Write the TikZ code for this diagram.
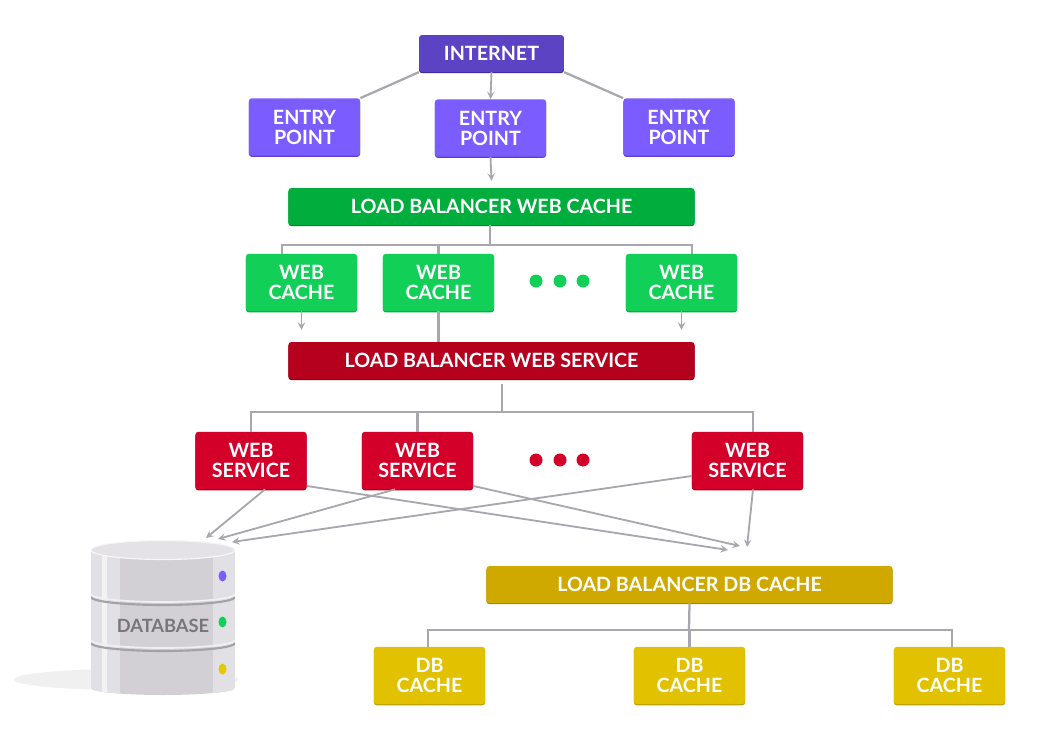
\documentclass[tikz,border=0pt]{standalone}
\usepackage{fontspec}
\setmainfont{Lato}

\definecolor{netfill}{HTML}{5B43C4}
\definecolor{netedge}{HTML}{3F2A9E}
\definecolor{entryfill}{HTML}{7B5CFF}
\definecolor{entryedge}{HTML}{5A3FD0}
\definecolor{lbcachefill}{HTML}{00AD3D}
\definecolor{lbcacheedge}{HTML}{008A30}
\definecolor{cachefill}{HTML}{12CF58}
\definecolor{cacheedge}{HTML}{0AA845}
\definecolor{lbservicefill}{HTML}{B5001E}
\definecolor{lbserviceedge}{HTML}{8A0016}
\definecolor{servicefill}{HTML}{D30029}
\definecolor{serviceedge}{HTML}{A8001F}
\definecolor{lbdbfill}{HTML}{CFA900}
\definecolor{lbdbedge}{HTML}{A88900}
\definecolor{dbfill}{HTML}{E2C200}
\definecolor{dbedge}{HTML}{BC9F00}
\definecolor{wire}{HTML}{A9A7AE}
\definecolor{drumbase}{HTML}{D2D0D4}
\definecolor{drumlight}{HTML}{E1E0E5}
\definecolor{drumtop}{HTML}{E4E2E7}
\definecolor{drumline}{HTML}{A3A2A7}
\definecolor{drumtext}{HTML}{77767B}

\begin{document}
\begin{tikzpicture}[x=0.025cm,y=-0.025cm]
	% Styles for boxes and wires
	\tikzset{
		card/.style 2 args={fill=#1, preaction={fill=#2, transform canvas={yshift=-0.03cm}}, rounded corners=2pt, text=white, font=\fontsize{14}{14.2}\selectfont\bfseries, align=center, inner sep=0pt},
		smallcard/.style 2 args={card={#1}{#2}, minimum width=2.78cm, minimum height=1.43cm},
		widecard/.style 2 args={card={#1}{#2}, minimum width=10.15cm, minimum height=0.92cm},
		wireline/.style={draw=wire, line width=1.6pt},
		wirearrow/.style={wireline, -stealth, line width=1.3pt}
	}
	\useasboundingbox (0,0) rectangle (1040,736);
	\fill[white] (0,0) rectangle (1040,736);

	% Purple boxes
	\node (internet) at (491.5,53.5) [card={netfill}{netedge}, minimum width=3.62cm, minimum height=0.92cm] {INTERNET};
	\node (entry1) at (304.5,127) [smallcard={entryfill}{entryedge}] {ENTRY\\POINT};
	\node (entry2) at (490.5,128) [smallcard={entryfill}{entryedge}] {ENTRY\\POINT};
	\node (entry3) at (679,127) [smallcard={entryfill}{entryedge}] {ENTRY\\POINT};

	% Green boxes
	\node (lbcache) at (491.5,206.5) [widecard={lbcachefill}{lbcacheedge}] {LOAD BALANCER WEB CACHE};
	\node (cache1) at (301.5,282.5) [smallcard={cachefill}{cacheedge}] {WEB\\CACHE};
	\node (cache2) at (438.5,282.5) [smallcard={cachefill}{cacheedge}] {WEB\\CACHE};
	\node (cache3) at (681.5,282.5) [smallcard={cachefill}{cacheedge}] {WEB\\CACHE};
	\foreach \x in {536,560,583}
		\fill[cachefill] (\x,281) circle[radius=6.5];

	% Red boxes
	\node (lbservice) at (491.5,360.5) [widecard={lbservicefill}{lbserviceedge}] {LOAD BALANCER WEB SERVICE};
	\node (service1) at (251,460.5) [smallcard={servicefill}{serviceedge}] {WEB\\SERVICE};
	\node (service2) at (417.5,460.5) [smallcard={servicefill}{serviceedge}] {WEB\\SERVICE};
	\node (service3) at (747.5,460.5) [smallcard={servicefill}{serviceedge}] {WEB\\SERVICE};
	\foreach \x in {536,560,583}
		\fill[servicefill] (\x,460) circle[radius=6.5];

	% Yellow boxes
	\node (lbdb) at (689.5,584.5) [widecard={lbdbfill}{lbdbedge}] {LOAD BALANCER DB CACHE};
	\node (db1) at (429.5,675.5) [smallcard={dbfill}{dbedge}] {DB\\CACHE};
	\node (db2) at (689.5,675.5) [smallcard={dbfill}{dbedge}] {DB\\CACHE};
	\node (db3) at (949.5,675.5) [smallcard={dbfill}{dbedge}] {DB\\CACHE};

	% Database drum
	\fill[black!6] (126,679.5) ellipse[x radius=112, y radius=10.5];
	\begin{scope}
		\clip (91,550) -- (235,550) -- (235,688) arc[start angle=0, end angle=180, x radius=72, y radius=7] -- cycle;
		\fill[drumbase] (91,540) rectangle (235,700);
		\fill[drumlight] (91,540) rectangle (120,700);
		\fill[black!5] (102,540) rectangle (107,700);
		\fill[drumlight] (213,540) rectangle (235,700);
		\draw[black!6, line width=1.2pt] (91,594) arc[start angle=180, end angle=0, x radius=72, y radius=8];
		\draw[drumline, line width=1.5pt] (91,597) arc[start angle=180, end angle=0, x radius=72, y radius=8];
		\draw[black!6, line width=1.2pt] (91,640) arc[start angle=180, end angle=0, x radius=72, y radius=8];
		\draw[drumline, line width=1.5pt] (91,643) arc[start angle=180, end angle=0, x radius=72, y radius=8];
	\end{scope}
	\fill[drumtop, draw=black!3, line width=0.8pt] (163,550) ellipse[x radius=72, y radius=9.5];
	\node (dbase) at (163,626) [text=drumtext, font=\fontsize{13}{13}\selectfont\bfseries, inner sep=0pt] {DATABASE};
	\fill[entryfill] (222.5,576) ellipse[x radius=4, y radius=5.5];
	\fill[cachefill] (222.5,622) ellipse[x radius=4, y radius=5.5];
	\fill[dbfill!90!yellow] (222.5,669) ellipse[x radius=4, y radius=5.5];
	\coordinate (dbin1) at (206,538);
	\coordinate (dbin2) at (218,539);
	\coordinate (dbin3) at (232,542);
	\coordinate (lbin1) at (728,550);
	\coordinate (lbin2) at (740,546);
	\coordinate (lbin3) at (747,547);

	% Wires out of the internet box
	\draw[wireline] (internet.south west) -- (entry1.north east);
	\draw[wireline] (internet.south east) -- (entry3.north west);
	\draw[wirearrow] (internet.south) -- (entry2.north);
	\draw[wirearrow] (entry2.south) -- ([yshift=0.175cm]lbcache.north);

	% Web cache tree
	\coordinate (cachebus) at (490,245);
	\draw[wireline] (490,0 |- lbcache.south) -- (cachebus);
	\draw[wireline] (282,0 |- cache1.north) |- (cachebus) -| (692,0 |- cache3.north);
	\draw[wireline] (cache2.north) -- (cache2.north |- cachebus);
	\draw[wirearrow] (cache1.south) -- ([yshift=0.3cm]cache1.south |- lbservice.north);
	\draw[wireline] (cache2.south) -- (cache2.south |- lbservice.north);
	\draw[wirearrow] (cache3.south) -- ([yshift=0.3cm]cache3.south |- lbservice.north);

	% Web service tree
	\coordinate (servicebus) at (502,412);
	\draw[wireline] ([yshift=-0.125cm]502,0 |- lbservice.south) -- (servicebus);
	\draw[wireline] (service1.north) |- (servicebus) -| (753,0 |- service3.north);
	\draw[wireline] (service2.north) -- (service2.north |- servicebus);

	% Crossing wires from the services
	\draw[wirearrow] (265,0 |- service1.south) -- (dbin1);
	\draw[wirearrow] (395,0 |- service2.south) -- (dbin2);
	\draw[wirearrow] (service3.west |- 0,476) -- (dbin3);
	\draw[wirearrow] (service1.east |- 0,486) -- (lbin1);
	\draw[wirearrow] (service2.east |- 0,486) -- (lbin2);
	\draw[wirearrow] (753,0 |- service3.south) -- (lbin3);

	% DB cache tree
	\coordinate (dbbus) at (689,630);
	\draw[wireline] (lbdb.south) -- (dbbus);
	\draw[wireline] (428,0 |- db1.north) |- (dbbus) -| (952,0 |- db3.north);
	\draw[wireline] (db2.north) -- (db2.north |- dbbus);
\end{tikzpicture}
\end{document}
